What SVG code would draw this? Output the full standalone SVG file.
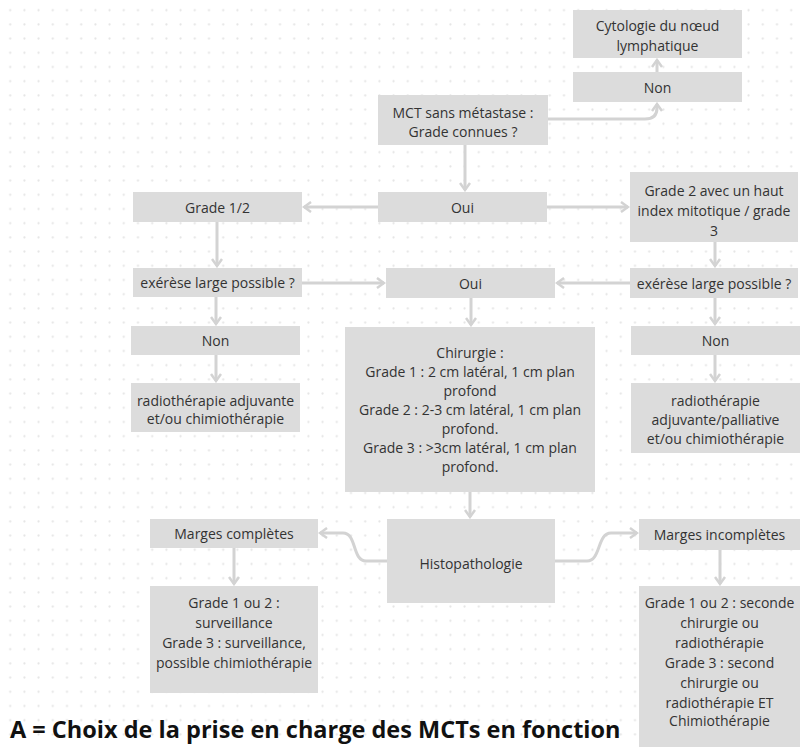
<svg xmlns="http://www.w3.org/2000/svg" width="801" height="747" viewBox="0 0 801 747">
<defs>
<pattern id="dots" x="3.1" y="3.1" width="14.2" height="14.2" patternUnits="userSpaceOnUse">
<circle cx="7.1" cy="7.1" r="1.1" fill="#e4e4e4"/>
</pattern>
<marker id="arr" viewBox="0 0 10 12" refX="8" refY="6" markerWidth="10" markerHeight="12" markerUnits="userSpaceOnUse" orient="auto">
<path d="M1,1 L8,6 L1,11" fill="none" stroke="#d3d3d3" stroke-width="2.5"/>
</marker>
</defs>
<style>
.box{fill:#dcdcdc}
.t{font-family:"Open Sans","Noto Sans","Liberation Sans",sans-serif;font-size:14px;fill:#333;text-anchor:middle;dominant-baseline:central}
.title{font-family:"Open Sans","Noto Sans","Liberation Sans",sans-serif;font-size:23.5px;font-weight:bold;fill:#111}
.c{fill:none;stroke:#d3d3d3;stroke-width:3;marker-end:url(#arr)}
</style>
<rect width="801" height="747" fill="#fff"/>
<rect width="801" height="747" fill="url(#dots)"/>

<g id="connectors">
<path class="c" d="M548,119 H645 Q657,119 657,108 V104"/>
<path class="c" d="M657,72 V60"/>
<path class="c" d="M465,145 V190"/>
<path class="c" d="M378,207 H304"/>
<path class="c" d="M547,207 H628"/>
<path class="c" d="M217,222 V266"/>
<path class="c" d="M302,283 H384"/>
<path class="c" d="M630,283 H557"/>
<path class="c" d="M471,298 V325"/>
<path class="c" d="M715,242 V266"/>
<path class="c" d="M216,297 V324"/>
<path class="c" d="M216,355 V381"/>
<path class="c" d="M715,298 V324"/>
<path class="c" d="M715,355 V381"/>
<path class="c" d="M470,492 V517"/>
<path class="c" d="M387,561 H366 C352,561 357,533 343,533 H320"/>
<path class="c" d="M555,561 H587 C601,561 597,533 611,533 H637"/>
<path class="c" d="M234,548 V584"/>
<path class="c" d="M720,550 V584"/>
</g>

<g id="cytologie"><rect class="box" x="573" y="10" width="169" height="48"/>
<text class="t" x="657.5" y="25">Cytologie du nœud</text><text class="t" x="657.5" y="45">lymphatique</text></g>
<g id="non-top"><rect class="box" x="573" y="72" width="169" height="30"/><text class="t" x="657.5" y="87">Non</text></g>
<g id="mct"><rect class="box" x="378" y="95" width="170" height="50"/>
<text class="t" x="463" y="112">MCT sans métastase :</text><text class="t" x="463" y="131">Grade connues ?</text></g>
<g id="oui-top"><rect class="box" x="378" y="192" width="169" height="30"/><text class="t" x="462.5" y="207">Oui</text></g>
<g id="grade12"><rect class="box" x="133" y="192" width="169" height="30"/><text class="t" x="217.5" y="207">Grade 1/2</text></g>
<g id="grade2"><rect class="box" x="630" y="172" width="168" height="70"/>
<text class="t" x="714" y="190">Grade 2 avec un haut</text><text class="t" x="714" y="210">index mitotique / grade</text><text class="t" x="714" y="230">3</text></g>
<g id="exerese-left"><rect class="box" x="133" y="268" width="169" height="29"/><text class="t" x="217.5" y="282.5">exérèse large possible ?</text></g>
<g id="oui-mid"><rect class="box" x="386" y="268" width="169" height="30"/><text class="t" x="470.5" y="283">Oui</text></g>
<g id="exerese-right"><rect class="box" x="630" y="268" width="168" height="30"/><text class="t" x="714" y="283">exérèse large possible ?</text></g>
<g id="non-left"><rect class="box" x="131" y="326" width="169" height="29"/><text class="t" x="215.5" y="340.5">Non</text></g>
<g id="radio-left"><rect class="box" x="131" y="383" width="169" height="49"/>
<text class="t" x="215.5" y="400">radiothérapie adjuvante</text><text class="t" x="215.5" y="418">et/ou chimiothérapie</text></g>
<g id="chirurgie"><rect class="box" x="345" y="327" width="250" height="165"/>
<text class="t" x="470" y="352">Chirurgie :</text>
<text class="t" x="470" y="371">Grade 1 : 2 cm latéral, 1 cm plan</text>
<text class="t" x="470" y="390">profond</text>
<text class="t" x="470" y="409">Grade 2 : 2-3 cm latéral, 1 cm plan</text>
<text class="t" x="470" y="428">profond.</text>
<text class="t" x="470" y="447">Grade 3 : &gt;3cm latéral, 1 cm plan</text>
<text class="t" x="470" y="466">profond.</text></g>
<g id="non-right"><rect class="box" x="631" y="326" width="169" height="29"/><text class="t" x="715.5" y="340.5">Non</text></g>
<g id="radio-right"><rect class="box" x="631" y="383" width="169" height="70"/>
<text class="t" x="715.5" y="400">radiothérapie</text><text class="t" x="715.5" y="419">adjuvante/palliative</text><text class="t" x="715.5" y="438">et/ou chimiothérapie</text></g>
<g id="marges-completes"><rect class="box" x="150" y="519" width="168" height="29"/><text class="t" x="234" y="533.5">Marges complètes</text></g>
<g id="histopathologie"><rect class="box" x="387" y="519" width="168" height="84"/><text class="t" x="471" y="563">Histopathologie</text></g>
<g id="marges-incompletes"><rect class="box" x="639" y="519" width="161" height="31"/><text class="t" x="719.5" y="534.5">Marges incomplètes</text></g>
<g id="suivi-complet"><rect class="box" x="150" y="586" width="168" height="107"/>
<text class="t" x="234" y="602">Grade 1 ou 2 :</text><text class="t" x="234" y="622">surveillance</text>
<text class="t" x="234" y="642">Grade 3 : surveillance,</text><text class="t" x="234" y="662">possible chimiothérapie</text></g>
<g id="suivi-incomplet"><rect class="box" x="639" y="586" width="161" height="161"/>
<text class="t" x="719.5" y="602">Grade 1 ou 2 : seconde</text>
<text class="t" x="719.5" y="622">chirurgie ou</text>
<text class="t" x="719.5" y="642">radiothérapie</text>
<text class="t" x="719.5" y="662">Grade 3 : second</text>
<text class="t" x="719.5" y="682">chirurgie ou</text>
<text class="t" x="719.5" y="702">radiothérapie ET</text>
<text class="t" x="719.5" y="720">Chimiothérapie</text></g>

<text class="title" x="10" y="738">A = Choix de la prise en charge des MCTs en fonction</text>
</svg>
